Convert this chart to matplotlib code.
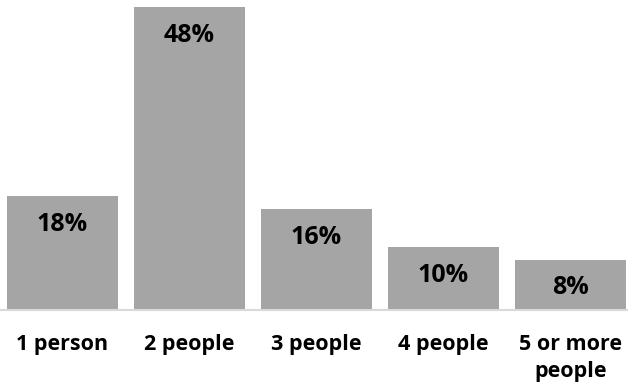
import matplotlib
matplotlib.use("Agg")
import matplotlib.pyplot as plt

# Household size distribution
categories = ["1 person", "2 people", "3 people", "4 people", "5 or more\npeople"]
shares = [18, 48, 16, 10, 8]

plt.rcParams["font.family"] = ["Open Sans", "DejaVu Sans"]

W, H = 628, 392
fig = plt.figure(figsize=(W / 100, H / 100), dpi=100)
base_px = 310          # baseline, pixels from top
ax = fig.add_axes([0, (H - base_px) / H, 1, base_px / H])

x = range(len(categories))
bars = ax.bar(x, shares, width=111 / 127, color="#A5A5A5", zorder=2)

ax.set_xlim(-62.5 / 127, (W - 62.5) / 127)
ax.set_ylim(0, 48 * base_px / 303)

for b, v in zip(bars, shares):
    ax.annotate(f"{v}%", (b.get_x() + b.get_width() / 2, v),
                xytext=(0, -20.5), textcoords="offset points",
                ha="center", va="center", fontsize=18, fontweight="bold",
                color="black")

for s in ["top", "right", "left"]:
    ax.spines[s].set_visible(False)
ax.spines["bottom"].set_color("#D9D9D9")
ax.spines["bottom"].set_linewidth(1.5)
ax.set_yticks([])
ax.set_xticks(list(x))
ax.set_xticklabels(categories, fontsize=15.5, fontweight="bold",
                   linespacing=1.4, va="top")
ax.tick_params(axis="x", length=0, pad=17)

fig.savefig("out.png", dpi=100)
